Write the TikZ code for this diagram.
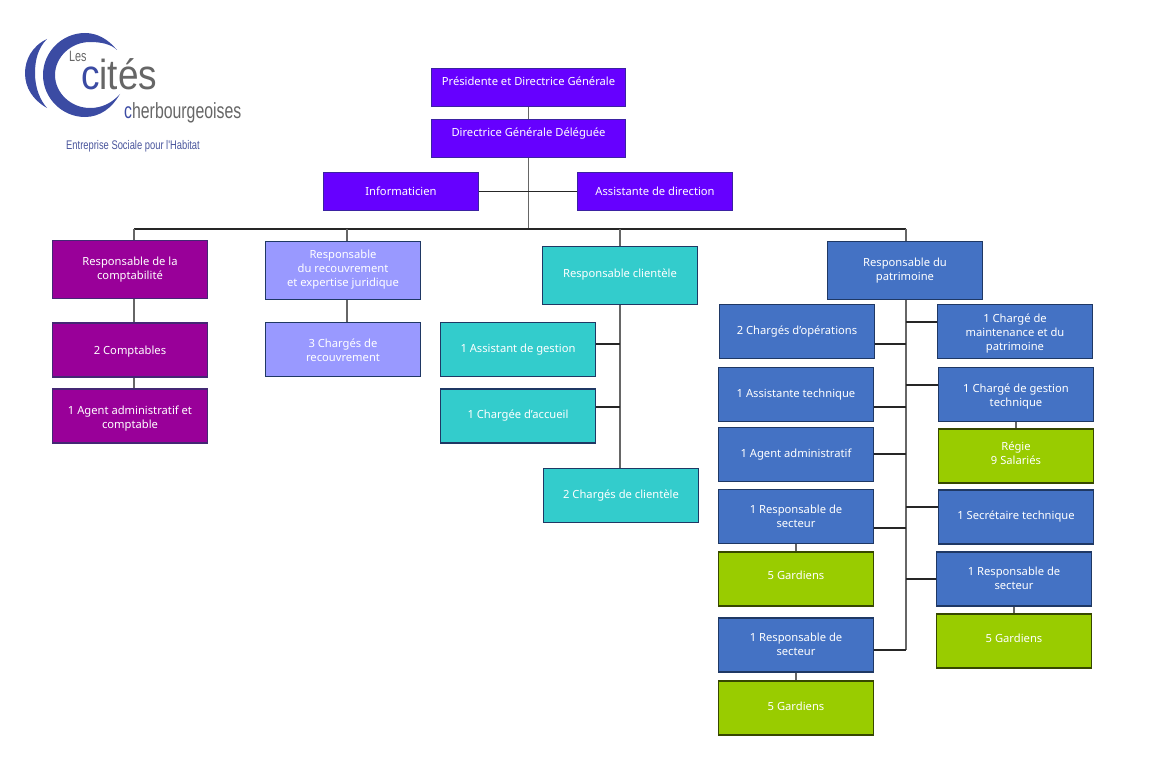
\documentclass[tikz,border=0pt]{standalone}
\usepackage{fontspec}
\setmainfont{Noto Sans}
\newfontfamily\logofont[FakeStretch=0.88]{Liberation Sans}
\newfontfamily\logothin[FakeStretch=0.72]{Liberation Sans}
\newfontfamily\logoslogan[FakeStretch=0.75]{Liberation Sans}
\definecolor{violetbox}{HTML}{6600FF}
\definecolor{purplebox}{HTML}{990099}
\definecolor{lavbox}{HTML}{9999FF}
\definecolor{tealbox}{HTML}{33CCCC}
\definecolor{bluebox}{HTML}{4472C4}
\definecolor{greenbox}{HTML}{99CC00}
\definecolor{navyline}{HTML}{1F3864}
\definecolor{logoblue}{HTML}{3B4BA3}
\definecolor{logogray}{HTML}{666666}
\newcommand{\txtdn}[1]{\rule{0pt}{#1}}
\newcommand{\txtup}[1]{\rule[-#1]{0pt}{0pt}}
\begin{document}
\begin{tikzpicture}[
    x=1pt, y=-1pt,
    box/.style={draw=navyline, line width=1.3pt, minimum width=155pt, minimum height=54pt, inner sep=1pt,
      align=center, text=white, font=\fontsize{11.2}{14}\selectfont},
    boxV/.style={box, fill=violetbox, draw=violetbox!40!navyline, minimum height=38pt},
    boxP/.style={box, fill=purplebox, draw=purplebox!30!navyline},
    boxL/.style={box, fill=lavbox},
    boxT/.style={box, fill=tealbox},
    boxB/.style={box, fill=bluebox},
    boxG/.style={box, fill=greenbox, draw=greenbox!35!black},
    tall/.style={minimum height=58pt},
    conn/.style={draw=black!60, line width=1.5pt},
    branch/.style={draw=black!85, line width=1.1pt}
  ]
  \useasboundingbox (0,0) rectangle (1152,776);

  % Logo
  \fill[logoblue] (47,39) .. controls (32,46) and (25,60) .. (25,73) .. controls (25,88) and (33,100) .. (47,108)
    .. controls (40,100) and (35,88) .. (35,73) .. controls (35,60) and (38,48) .. (47,39) -- cycle;
  \fill[logoblue] (117,50) .. controls (108,39) and (97,33) .. (85,33) .. controls (62,33) and (43,52) .. (43,75)
    .. controls (43,98) and (62,117) .. (85,117) .. controls (100,117) and (112,108) .. (120,94)
    .. controls (112,103) and (102,108) .. (90,108) .. controls (71,108) and (55,93) .. (55,75)
    .. controls (55,57) and (71,42) .. (90,42) .. controls (101,42) and (111,44) .. (117,50) -- cycle;
  \node[anchor=base west, inner sep=0pt, text=logogray, font=\logothin\fontsize{15}{15}\selectfont] (logoLes) at (69,62) {Les};
  \node[anchor=base west, inner sep=0pt, text=logogray, font=\logofont\fontsize{42}{42}\selectfont] (logoCites) at (81,89) {\textcolor{logoblue}{c}ités};
  \node[anchor=base west, inner sep=0pt, text=logogray, font=\logothin\fontsize{22}{22}\selectfont] (logoCherb) at (124,118) {\textcolor{logoblue}{c}herbourgeoises};
  \node[anchor=base west, inner sep=0pt, text=logoblue!80!gray, font=\logoslogan\fontsize{12.5}{12.5}\selectfont] (logoSlogan) at (66,149) {Entreprise Sociale pour l'Habitat};

  % Direction
  \node[boxV, minimum width=194pt] (pdg) at (528.5,87.5) {\txtdn{10.6pt}Présidente et Directrice Générale\\~};
  \node[boxV, minimum width=194pt] (dgd) at (528.5,138.5) {\txtdn{10.6pt}Directrice Générale Déléguée\\~};
  \node[boxV] (info) at (401,191.5) {Informaticien};
  \node[boxV] (assist) at (655,191.5) {Assistante de direction};

  % Responsables
  \node[boxP, tall] (compta) at (130,269.5) {Responsable de la\\comptabilité};
  \node[boxL, tall] (recouv) at (343,270.5) {Responsable\\du recouvrement\\et expertise juridique\txtup{4.7pt}};
  \node[boxT, tall] (client) at (620,275.5) {Responsable clientèle\txtup{4.7pt}};
  \node[boxB, tall] (patri) at (905,270.5) {Responsable du\\patrimoine};

  % Comptabilite et recouvrement
  \node[boxP] (comptables) at (130,350) {\txtdn{12.5pt}2 Comptables};
  \node[boxP] (agentcompta) at (130,416) {\txtdn{14.6pt}1 Agent administratif et\\comptable};
  \node[boxL] (charges) at (343,349.5) {\txtdn{10.6pt}3 Chargés de\\recouvrement};

  % Clientele
  \node[boxT] (gestion) at (518,349.5) {1 Assistant de gestion};
  \node[boxT] (accueil) at (518,416) {1 Chargée d'accueil};
  \node[boxT] (clientele) at (621,495.5) {2 Chargés de clientèle};

  % Patrimoine, gauche
  \node[boxB] (operations) at (797,331.5) {2 Chargés d'opérations};
  \node[boxB] (asstech) at (796,394.5) {1 Assistante technique};
  \node[boxB] (agent) at (796,454.5) {1 Agent administratif};
  \node[boxB] (secteurA) at (796,516.5) {1 Responsable de\\secteur};
  \node[boxG] (gardiensA) at (796,579) {5 Gardiens\txtup{8pt}};
  \node[boxB] (secteurB) at (796,645) {1 Responsable de\\secteur\txtup{2pt}};
  \node[boxG] (gardiensB) at (796,708) {5 Gardiens\txtup{4pt}};

  % Patrimoine, droite
  \node[boxB] (mainte) at (1015,331.5) {\txtdn{12.6pt}1 Chargé de\\maintenance et du\\patrimoine};
  \node[boxB] (gesttech) at (1016,394.5) {\txtdn{12.6pt}1 Chargé de gestion\\technique};
  \node[boxG] (regie) at (1016,456) {Régie\\9 Salariés\txtup{6pt}};
  \node[boxB] (secretaire) at (1016,517) {1 Secrétaire technique};
  \node[boxB] (secteurC) at (1014,579) {1 Responsable de\\secteur\txtup{2pt}};
  \node[boxG] (gardiensC) at (1014,641) {5 Gardiens\txtup{6pt}};

  % Connectors
  \coordinate (busL) at (134,229);
  \coordinate (busR) at (906,229);
  \coordinate (busR2) at (347,229);
  \draw[conn] (pdg) -- (dgd);
  \draw[conn] (dgd.south) -- (dgd.south |- busL);
  \draw[branch] (info) -- (assist);
  \draw[branch] (busL) -- (busR);
  \draw[conn] (busL) -- (busL |- compta.north);
  \draw[conn] (busR2) -- (busR2 |- recouv.north);
  \draw[conn] (client.north |- busL) -- (client.north);
  \draw[conn] (busR) -- (busR |- patri.north);
  \draw[conn] (busL |- compta.south) -- (busL |- comptables.north);
  \draw[conn] (busL |- comptables.south) -- (busL |- agentcompta.north);
  \draw[conn] (busR2 |- recouv.south) -- (busR2 |- charges.north);
  \draw[conn] (client.south) -- (client.south |- clientele.north);
  \foreach \n/\y in {gestion/344, accueil/407}
    \draw[branch] (\n.east |- 0,\y) -- (client.south |- 0,\y);
  \draw[conn] (busR |- patri.south) -- (busR |- 0,650);
  \foreach \n/\y in {operations/344, asstech/407, agent/454, secteurA/528, secteurB/650}
    \draw[branch] (\n.east |- 0,\y) -- (busR |- 0,\y);
  \foreach \n/\y in {mainte/322, gesttech/385, secretaire/507, secteurC/579}
    \draw[branch] (busR |- 0,\y) -- (\n.west |- 0,\y);
  \draw[conn] (secteurA) -- (gardiensA);
  \draw[conn] (secteurB) -- (gardiensB);
  \draw[conn] (gesttech) -- (regie);
  \draw[conn] (secteurC) -- (gardiensC);
\end{tikzpicture}
\end{document}
